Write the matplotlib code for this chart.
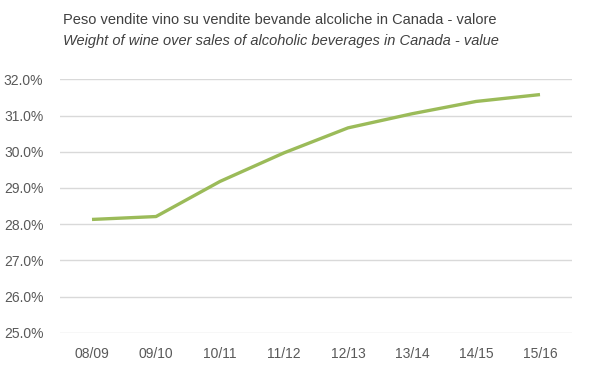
import matplotlib
matplotlib.use("Agg")
import matplotlib.pyplot as plt
from matplotlib.ticker import FuncFormatter

categories = ["08/09", "09/10", "10/11", "11/12", "12/13", "13/14", "14/15", "15/16"]
values = [28.13, 28.21, 29.18, 29.97, 30.66, 31.05, 31.39, 31.58]
yticks = [25, 26, 27, 28, 29, 30, 31, 32]
title_it = "Peso vendite vino su vendite bevande alcoliche in Canada - valore"
title_en = "Weight of wine over sales of alcoholic beverages in Canada - value"

plt.rcParams['font.family'] = ['Liberation Sans', 'DejaVu Sans']

fig = plt.figure(figsize=(5.99, 3.78), dpi=100)
ax = fig.add_axes([60/599, 0.1198, (572-60)/599, 0.790-0.1198])

x = list(range(len(categories)))
ax.plot(x, values, color="#9BBB59", linewidth=2.4, solid_capstyle="butt", zorder=3)

ax.set_xlim(-0.5, len(categories) - 0.5)
ax.set_ylim(25, 32)
ax.set_yticks(yticks)
ax.yaxis.set_major_formatter(FuncFormatter(lambda v, p: f"{v:.1f}%"))
ax.set_xticks(x)
ax.set_xticklabels(categories)
ax.grid(axis="y", color="#D9D9D9", linewidth=1.0)
ax.set_axisbelow(True)
for s in ax.spines.values():
    s.set_visible(False)
ax.tick_params(axis="both", length=0, labelsize=10, colors="#595959")
ax.tick_params(axis="y", pad=12)
ax.tick_params(axis="x", pad=10)

fig.text(63/599, 1 - 20/378, title_it, fontsize=10.5, color="#404040", va="center", ha="left")
fig.text(63/599, 1 - 41/378, title_en, fontsize=10.5, color="#404040", va="center", ha="left", style="italic")

fig.savefig("out.png", dpi=100)
